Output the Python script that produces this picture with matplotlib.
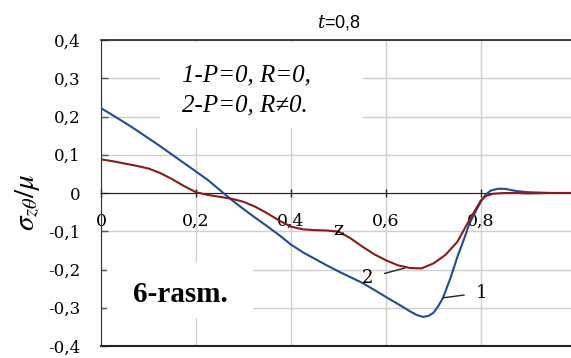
import matplotlib
matplotlib.use("Agg")
import matplotlib.pyplot as plt
from matplotlib.patches import Rectangle

plt.rcParams['mathtext.fontset'] = 'stix'
plt.rcParams['font.family'] = ['DejaVu Serif']

# ---- data ----
z1 = [0.0, 0.025, 0.05, 0.075, 0.1, 0.125, 0.15, 0.175, 0.2, 0.225, 0.25, 0.275,
      0.3, 0.325, 0.35, 0.375, 0.4, 0.425, 0.45, 0.475, 0.5, 0.525, 0.55, 0.575,
      0.6, 0.625, 0.65, 0.665, 0.678, 0.69, 0.7, 0.71, 0.72, 0.735, 0.75, 0.765,
      0.775, 0.79, 0.8, 0.81, 0.82, 0.835, 0.85, 0.875, 0.9, 0.95, 1.0]
s1 = [0.222, 0.203, 0.184, 0.164, 0.143, 0.122, 0.100, 0.078, 0.056, 0.034, 0.008, -0.018,
      -0.042, -0.065, -0.087, -0.110, -0.135, -0.155, -0.172, -0.189, -0.205, -0.220, -0.235, -0.253,
      -0.272, -0.290, -0.309, -0.319, -0.324, -0.321, -0.313, -0.296, -0.274, -0.225, -0.168, -0.118,
      -0.082, -0.045, -0.022, -0.004, 0.006, 0.011, 0.011, 0.005, 0.002, 0.0, 0.0]

z2 = [0.0, 0.025, 0.05, 0.075, 0.1, 0.125, 0.15, 0.175, 0.2, 0.225, 0.25, 0.275,
      0.3, 0.325, 0.35, 0.375, 0.4, 0.425, 0.45, 0.475, 0.5, 0.525, 0.55, 0.575,
      0.6, 0.625, 0.65, 0.675, 0.7, 0.725, 0.75, 0.775, 0.8, 0.81, 0.825, 0.85,
      0.875, 0.9, 0.95, 1.0]
s2 = [0.088, 0.083, 0.077, 0.071, 0.064, 0.052, 0.036, 0.018, 0.002, -0.005, -0.010, -0.015,
      -0.023, -0.036, -0.053, -0.072, -0.088, -0.095, -0.097, -0.098, -0.101, -0.118, -0.140, -0.160,
      -0.176, -0.189, -0.196, -0.197, -0.184, -0.162, -0.128, -0.072, -0.019, -0.008, -0.002, 0.0,
      0.0, -0.001, 0.0, 0.0]

xticks = [0.0, 0.2, 0.4, 0.6, 0.8]
xticklabels = ["0", "0,2", "0,4", "0,6", "0,8"]
yticks = [-0.4, -0.3, -0.2, -0.1, 0.0, 0.1, 0.2, 0.3, 0.4]
yticklabels = ["-0,4", "-0,3", "-0,2", "-0,1", "0", "0,1", "0,2", "0,3", "0,4"]

title = r"$t$=0,8"
ylabel = r"$\sigma_{z\theta}/\mu$"
xlabel = "z"
legend_lines = ["1-P=0, R=0,", "2-P=0, R\u22600."]
fig_label = "6-rasm."
curve_labels = ["1", "2"]

blue = "#1f4e8f"
red = "#8b1a1a"

# ---- figure ----
W, H = 571, 358
fig = plt.figure(figsize=(W / 100, H / 100), dpi=100)
ax = fig.add_axes([101 / W, (H - 346) / H, 475 / W, 306 / H])

ax.set_xlim(0, 1.0)
ax.set_ylim(-0.4, 0.4)
ax.set_axisbelow(True)
ax.grid(True, color="#cfcfcf", linewidth=1.0)

ax.plot(z1, s1, color=blue, linewidth=1.5, zorder=3)
ax.plot(z2, s2, color=red, linewidth=1.5, zorder=3)

ax.spines['bottom'].set_position(('data', 0))
ax.spines['bottom'].set_color('#222222')
ax.spines['left'].set_color('#333333')
ax.spines['top'].set_color('#222222')
ax.spines['top'].set_linewidth(1.2)
ax.tick_params(axis='x', direction='inout', length=6, width=1, color='#222222',
               pad=11.5, labelsize=12.5)
ax.tick_params(axis='y', direction='in', length=5, width=1, color='#555555',
               pad=15, labelsize=12)

ax.set_xticks(xticks)
ax.set_xticklabels(xticklabels)
ax.set_yticks(yticks)
ax.set_yticklabels(yticklabels)

# bottom frame line
ax.plot([0, 1], [0, 0], transform=ax.transAxes, color='#222222', linewidth=1.5, clip_on=False)

ax.set_title(title, fontsize=13, family="Liberation Sans", pad=9, math_fontfamily='dejavuserif')
ax.set_ylabel(ylabel, fontsize=21)
ax.yaxis.set_label_coords(-0.125, 0.47)

# white boxes hiding grid
ax.add_patch(Rectangle((0.124, 0.712), 0.428, 0.281, transform=ax.transAxes,
                       facecolor='white', edgecolor='none', zorder=1))
ax.add_patch(Rectangle((0.012, 0.092), 0.308, 0.183, transform=ax.transAxes,
                       facecolor='white', edgecolor='none', zorder=1))

ax.text(0.171, 0.864, legend_lines[0], transform=ax.transAxes, family="Liberation Serif",
        style='italic', fontsize=18, va='baseline', ha='left', zorder=4)
ax.text(0.171, 0.766, legend_lines[1], transform=ax.transAxes, family="Liberation Serif",
        style='italic', fontsize=18, va='baseline', ha='left', zorder=4)

ax.text(0.168, 0.145, fig_label, transform=ax.transAxes, family="Liberation Serif",
        weight='bold', fontsize=21, va='baseline', ha='center', zorder=4)

ax.text(0.499, -0.097, xlabel, family="DejaVu Serif", fontsize=14, ha='center', va='center', zorder=4)

ax.annotate(curve_labels[1], xy=(0.640, -0.196), xytext=(0.562, -0.222),
            family="DejaVu Serif", fontsize=13, ha='center', va='center',
            arrowprops=dict(arrowstyle='-', color='#222222', lw=1.0, shrinkA=6, shrinkB=0))
ax.annotate(curve_labels[0], xy=(0.720, -0.274), xytext=(0.800, -0.261),
            family="DejaVu Serif", fontsize=13, ha='center', va='center',
            arrowprops=dict(arrowstyle='-', color='#222222', lw=1.0, shrinkA=6, shrinkB=0))

fig.savefig("out.png", dpi=100)
